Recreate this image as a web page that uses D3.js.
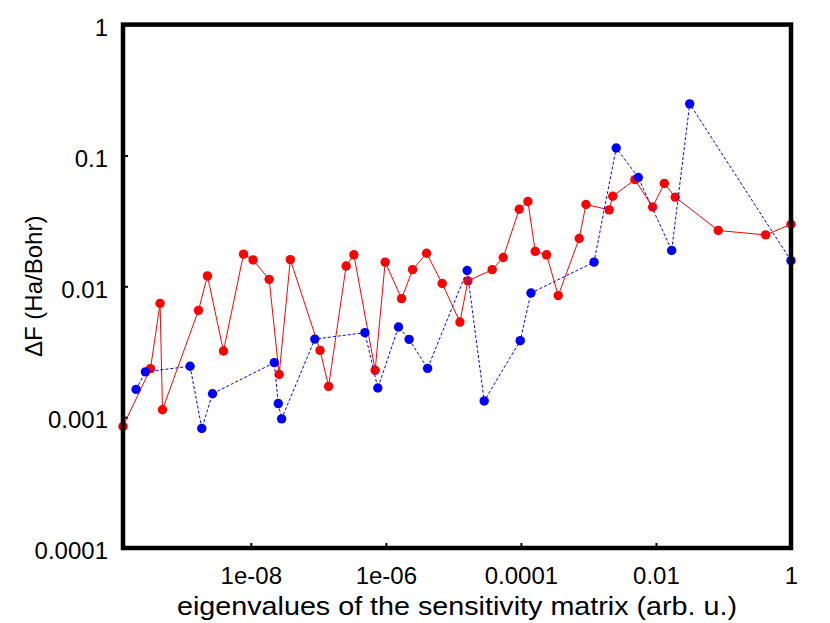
<!DOCTYPE html>
<html>
<head>
<meta charset="utf-8">
<script src="https://cdn.jsdelivr.net/npm/d3@7"></script>
<style>
  body { margin: 0; background: #fff; }
  text { font-family: "Liberation Sans", Arial, sans-serif; fill: #000; }
</style>
</head>
<body>
<div id="vis"></div>
<script>
var margin = {top: 24.6, right: 39, bottom: 75, left: 123},
    width = 830 - margin.left - margin.right,
    height = 623 - margin.top - margin.bottom;

// red series
var redX = [1.28e-10, 3.27e-10, 4.53e-10, 4.92e-10, 1.68e-9, 2.28e-9, 3.94e-9, 7.8e-9, 1.08e-8, 1.87e-8,
            2.63e-8, 3.85e-8, 1.06e-7, 1.42e-7, 2.58e-7, 3.36e-7, 6.94e-7, 9.77e-7, 1.71e-6, 2.49e-6,
            4.01e-6, 6.83e-6, 1.25e-5, 1.64e-5, 3.76e-5, 5.47e-5, 9.44e-5, 1.27e-4, 1.63e-4, 2.40e-4,
            3.57e-4, 7.31e-4, 9.19e-4, 2.03e-3, 2.29e-3, 4.88e-3, 8.93e-3, 0.0133, 0.0193, 0.0838,
            0.422, 1]
var redY = [0.00085, 0.00235, 0.00741, 0.00114, 0.00655, 0.0120, 0.00320, 0.0176, 0.0159, 0.0113,
            0.00212, 0.0160, 0.00324, 0.00172, 0.0143, 0.0174, 0.00228, 0.0153, 0.00805, 0.0134,
            0.0179, 0.0105, 0.00533, 0.0110, 0.0134, 0.0166, 0.0388, 0.0445, 0.0185, 0.0174,
            0.00849, 0.0232, 0.0422, 0.0384, 0.0488, 0.0653, 0.0404, 0.0611, 0.0480, 0.0267,
            0.0247, 0.0298]

// blue series
var blueX = [2.0e-10, 2.75e-10, 1.26e-9, 1.88e-9, 2.71e-9, 2.23e-8, 2.55e-8, 2.86e-8, 8.87e-8, 4.89e-7,
             7.6e-7, 1.54e-6, 2.21e-6, 4.15e-6, 1.60e-5, 2.86e-5, 9.77e-5, 1.41e-4, 1.21e-3, 2.58e-3,
             5.47e-3, 0.0171, 0.0316, 1]
var blueY = [0.00163, 0.00222, 0.00245, 0.00082, 0.00151, 0.00261, 0.00127, 0.00097, 0.00395, 0.00442,
             0.00167, 0.00489, 0.00393, 0.00236, 0.0132, 0.00133, 0.00384, 0.00889, 0.0153, 0.114,
             0.0679, 0.0188, 0.248, 0.0157]

// ticks
var xTicks = [1e-8, 1e-6, 1e-4, 1e-2, 1]
var xTickLabels = ["1e-08", "1e-06", "0.0001", "0.01", "1"]
var yTicks = [1e-4, 1e-3, 1e-2, 1e-1, 1]
var yTickLabels = ["0.0001", "0.001", "0.01", "0.1", "1"]

var xLabel = "eigenvalues of the sensitivity matrix (arb. u.)"
var yLabel = "ΔF (Ha/Bohr)"

var x = d3.scaleLog().domain([redX[0], 1]).range([0, width])
var y = d3.scaleLog().domain([1e-4, 1]).range([height, 0])

var svg = d3.select("#vis").append("svg")
    .attr("width", 830)
    .attr("height", 623)
  .append("g")
    .attr("transform", "translate(" + margin.left + "," + margin.top + ")")

// axes, ticks pointing inward, no domain line (frame drawn below)
svg.append("g")
    .attr("transform", "translate(0," + height + ")")
    .call(d3.axisBottom(x).tickValues(xTicks)
      .tickSize(-5).tickPadding(19)
      .tickFormat(function(d, i) { return xTickLabels[i] }))
svg.append("g")
    .call(d3.axisLeft(y).tickValues(yTicks)
      .tickSize(-5).tickPadding(15)
      .tickFormat(function(d, i) { return yTickLabels[i] }))
  .selectAll(".tick text")
    .attr("dy", "0.45em")

svg.selectAll(".domain").remove()
svg.selectAll(".tick line").attr("stroke", "#000").attr("stroke-width", 2)
svg.selectAll(".tick text").style("font-size", "24px").attr("fill", "#000")

function series(xs, ys) {
  return xs.map(function(v, i) { return {x: v, y: ys[i]} })
}

var line = d3.line()
    .x(function(d) { return x(d.x) })
    .y(function(d) { return y(d.y) })

var plots = [
  {data: series(redX, redY), color: "#ff0000", dash: null},
  {data: series(blueX, blueY), color: "#0000ff", dash: "3,2"}
]

plots.forEach(function(p) {
  svg.append("path")
      .datum(p.data)
      .attr("d", line)
      .attr("fill", "none")
      .attr("stroke", p.color)
      .attr("stroke-width", 1)
      .attr("stroke-dasharray", p.dash)

  svg.append("g").selectAll("circle")
      .data(p.data)
      .enter()
      .append("circle")
      .attr("cx", function(d) { return x(d.x) })
      .attr("cy", function(d) { return y(d.y) })
      .attr("r", 4.7)
      .attr("fill", p.color)
})

// frame
svg.append("rect")
    .attr("width", width)
    .attr("height", height)
    .attr("fill", "none")
    .attr("stroke", "#000")
    .attr("stroke-width", 4.5)

svg.append("text")
    .attr("x", width / 2)
    .attr("y", height + 67)
    .attr("text-anchor", "middle")
    .attr("textLength", 560)
    .attr("lengthAdjust", "spacingAndGlyphs")
    .style("font-size", "26px")
    .text(xLabel)

svg.append("text")
    .attr("transform", "translate(" + (42 - margin.left) + "," + (height / 2) + ") rotate(-90)")
    .attr("text-anchor", "middle")
    .style("font-size", "24px")
    .text(yLabel)
</script>
</body>
</html>
